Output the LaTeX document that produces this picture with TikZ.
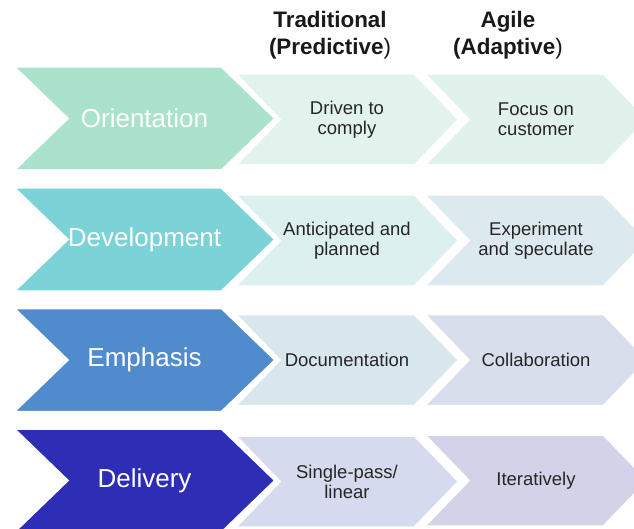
\documentclass[tikz,border=0pt]{standalone}
\usepackage{fontspec}
\setmainfont{Liberation Sans}
\usepackage{tikz}
\usetikzlibrary{shapes.symbols,positioning}
\definecolor{txtgray}{RGB}{38,38,38}
\definecolor{mint}{RGB}{171,226,203}
\definecolor{teal}{RGB}{123,211,216}
\definecolor{midblue}{RGB}{79,139,205}
\definecolor{indigo}{RGB}{46,45,181}
\tikzset{
  stage/.style={signal, signal from=west, signal to=east, signal pointer angle=88,
                draw=white, line width=2.5pt, minimum width=262pt, minimum height=104pt,
                inner sep=0pt, text=white, align=center,
                font=\fontsize{26}{30}\selectfont},
  cell/.style={signal, signal from=west, signal to=east, signal pointer angle=92,
               draw=white, line width=2.5pt, minimum width=224pt, minimum height=92pt,
               inner sep=0pt, text=txtgray, align=center,
               font=\fontsize{18.5}{20}\selectfont},
  header/.style={align=center, text=black!90, font=\bfseries\fontsize{22.4}{27}\selectfont}
}

\begin{document}
\begin{tikzpicture}[x=1pt, y=-1pt]
\useasboundingbox (0,0) rectangle (634,529);

\node[header] (trad) at (330,35) {Traditional\\(Predictive\textmd{)}};
\node[header] (agile) at (508,35) {Agile\\(Adaptive\textmd{)}};

% agile column
\node[cell, fill={rgb,255:red,225;green,242;blue,237}] (focus) at (536,119.5) {Focus on\\customer};
\node[cell, fill={rgb,255:red,220;green,234;blue,240}] (exper) at (536,240.5) {Experiment\\and speculate};
\node[cell, fill={rgb,255:red,216;green,222;blue,236}] (collab) at (536,360) {Collaboration};
\node[cell, fill={rgb,255:red,210;green,210;blue,232}] (iter) at (536,480.5) {Iteratively};

% traditional column
\node[cell, fill={rgb,255:red,225;green,243;blue,236}] (comply) at (347,119.5) {Driven to\\comply};
\node[cell, fill={rgb,255:red,221;green,240;blue,240}] (antic) at (347,240.5) {Anticipated and\\planned};
\node[cell, fill={rgb,255:red,216;green,230;blue,238}] (docu) at (347,360) {Documentation};
\node[cell, fill={rgb,255:red,214;green,218;blue,238}] (single) at (347,481.5) {Single-pass/\\linear};

% row labels
\node[stage, fill=mint] (orient) at (144.5,118.5) {Orientation};
\node[stage, fill=teal] (devel) at (144.5,239.5) {Development};
\node[stage, fill=midblue] (emph) at (144.5,360) {Emphasis};
\node[stage, fill=indigo] (deliv) at (144.5,480.5) {Delivery};
\end{tikzpicture}
\end{document}
